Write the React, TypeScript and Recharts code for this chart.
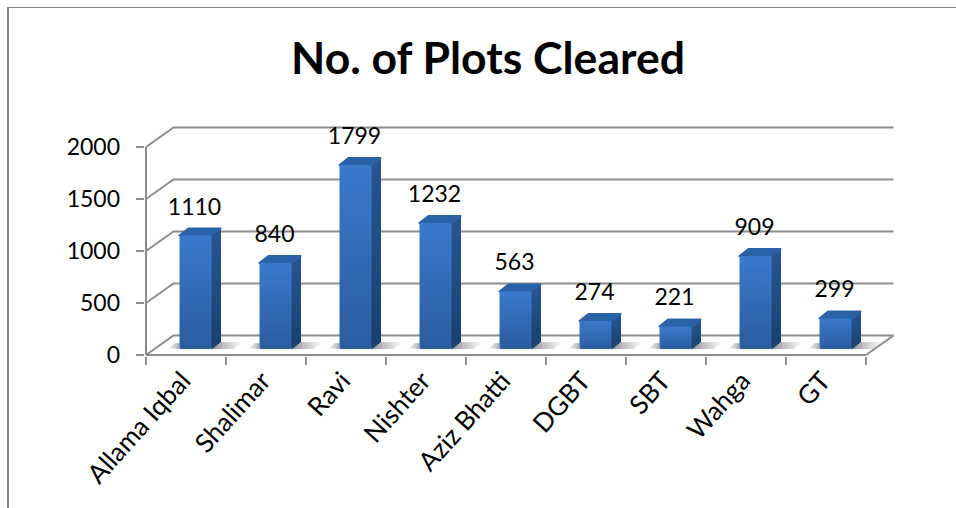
import { Bar, CartesianGrid, ComposedChart, LabelList, Line, XAxis, YAxis } from 'recharts'

const categories = ['Allama Iqbal', 'Shalimar', 'Ravi', 'Nishter', 'Aziz Bhatti', 'DGBT', 'SBT', 'Wahga', 'GT']
const plotsCleared = [1110, 840, 1799, 1232, 563, 274, 221, 909, 299]
const yTicks = [0, 500, 1000, 1500, 2000]

const data = categories.map((name, i) => ({ name, plots: plotsCleared[i] }))

const AXIS = '#8c8c8c'
const FONT = 'Lato, sans-serif'
const BAND = 80
const BASELINE = 355
// how far the back wall sits from the front axis
const DEPTH_X = 27.5
const DEPTH_Y = -19.5
// bars stand a little way into the floor
const BAR_DX = 9.5
const SIDE_W = 9
const TOP_H = 7

function WallLine({ x1, x2, y1 }: any) {
  return (
    <g>
      <polyline
        points={`${x1},${y1} ${x1 + DEPTH_X},${y1 + DEPTH_Y} ${x2 + DEPTH_X},${y1 + DEPTH_Y}`}
        fill="none"
        stroke={AXIS}
        strokeWidth={2}
      />
      {y1 === BASELINE && (
        <line x1={x2} y1={y1} x2={x2 + DEPTH_X} y2={y1 + DEPTH_Y} stroke={AXIS} strokeWidth={2} />
      )}
    </g>
  )
}

function YTick({ x, y, payload }: any) {
  return (
    <g>
      <line x1={x} x2={x + 8} y1={y} y2={y} stroke={AXIS} strokeWidth={2} />
      <text x={x - 16} y={y + 8} textAnchor="end" fontSize={23} fontFamily={FONT} fill="#000">
        {payload.value}
      </text>
    </g>
  )
}

function XTick({ x, y, payload, index }: any) {
  const left = x - BAND / 2
  return (
    <g>
      <line x1={left} x2={left} y1={y - 8} y2={y} stroke={AXIS} strokeWidth={2} />
      {index === categories.length - 1 && (
        <line x1={left + BAND} x2={left + BAND} y1={y - 8} y2={y} stroke={AXIS} strokeWidth={2} />
      )}
      <text
        x={x + 6}
        y={y + 17}
        textAnchor="end"
        fontSize={26}
        fontFamily={FONT}
        fill="#000"
        transform={`rotate(-48 ${x + 6} ${y + 17})`}
      >
        {payload.value}
      </text>
    </g>
  )
}

function Bar3D({ x, y, width, height }: any) {
  const l = x + BAR_DX
  const r = l + width
  const b = y + height
  return (
    <g>
      <polygon points={`${l - 12},${b - 1} ${l - 4},${b - 6} ${l},${b - 6} ${l},${b}`} fill="url(#shadowLeft)" />
      <polygon
        points={`${r},${b} ${r + SIDE_W},${b - TOP_H} ${r + 32},${b - TOP_H} ${r + 22},${b}`}
        fill="url(#shadowRight)"
      />
      <polygon
        points={`${r},${y} ${r + SIDE_W},${y - TOP_H} ${r + SIDE_W},${b - TOP_H} ${r},${b}`}
        fill="url(#barSide)"
        stroke="url(#barSide)"
        strokeWidth={1}
        strokeLinejoin="round"
      />
      <polygon
        points={`${l},${y} ${l + SIDE_W},${y - TOP_H} ${r + SIDE_W},${y - TOP_H} ${r},${y}`}
        fill="#2a62a8"
        stroke="#2a62a8"
        strokeWidth={2}
        strokeLinejoin="round"
      />
      <rect x={l} y={y} width={width} height={height} rx={1.5} fill="url(#barFront)" />
    </g>
  )
}

function BarValue({ x, y, width, value }: any) {
  return (
    <text
      x={x + width / 2 + BAR_DX - 1}
      y={y - 21}
      textAnchor="middle"
      fontSize={23}
      fontFamily={FONT}
      fill="#000"
    >
      {value}
    </text>
  )
}

export default function App() {
  return (
    <div style={{ position: 'fixed', left: 0, top: 0, width: 956, height: 508, overflow: 'hidden', background: '#fff' }}>
      <div
        style={{
          position: 'absolute',
          left: 7,
          top: 7,
          right: 0,
          bottom: 0,
          borderLeft: '2px solid #868686',
          borderTop: '1.5px solid #868686',
        }}
      />
      <div style={{ position: 'absolute', left: 0, top: 0 }}>
        <ComposedChart
          width={956}
          height={508}
          data={data}
          barSize={32}
          margin={{ top: 147, right: 90, bottom: 53, left: 86 }}
        >
          <defs>
            <linearGradient id="barFront" x1="0" y1="0" x2="0" y2="1">
              <stop offset="0%" stopColor="#3a7acb" />
              <stop offset="100%" stopColor="#2a5c9f" />
            </linearGradient>
            <linearGradient id="barSide" x1="0" y1="0" x2="0" y2="1">
              <stop offset="0%" stopColor="#265693" />
              <stop offset="100%" stopColor="#1c3f6e" />
            </linearGradient>
            <linearGradient id="shadowLeft" x1="0" y1="0" x2="1" y2="0">
              <stop offset="0%" stopColor="#999" stopOpacity={0} />
              <stop offset="100%" stopColor="#888" stopOpacity={0.7} />
            </linearGradient>
            <linearGradient id="shadowRight" x1="0" y1="0" x2="1" y2="0">
              <stop offset="0%" stopColor="#777" stopOpacity={0.85} />
              <stop offset="100%" stopColor="#999" stopOpacity={0} />
            </linearGradient>
          </defs>
          <text x={488} y={74} textAnchor="middle" fontSize={44.5} fontWeight={700} fontFamily={FONT} fill="#000">
            No. of Plots Cleared
          </text>
          <CartesianGrid yAxisId="axis" vertical={false} horizontalValues={yTicks} horizontal={<WallLine />} />
          <XAxis
            dataKey="name"
            interval={0}
            height={100}
            tickLine={false}
            axisLine={{ stroke: AXIS, strokeWidth: 2 }}
            tick={<XTick />}
            tickSize={8}
          />
          <YAxis
            yAxisId="axis"
            width={60}
            domain={[0, 2000]}
            ticks={yTicks}
            tickLine={false}
            axisLine={{ stroke: AXIS, strokeWidth: 2 }}
            tick={<YTick />}
            tickSize={8}
          />
          <YAxis yAxisId="bars" hide domain={[-59, 1976]} allowDataOverflow />
          {/* invisible, only here so the visible axis has a series and draws its ticks */}
          <Line yAxisId="axis" dataKey="plots" stroke="none" dot={false} legendType="none" isAnimationActive={false} />
          <Bar yAxisId="bars" dataKey="plots" shape={<Bar3D />} isAnimationActive={false}>
            <LabelList dataKey="plots" content={<BarValue />} />
          </Bar>
        </ComposedChart>
      </div>
    </div>
  )
}
